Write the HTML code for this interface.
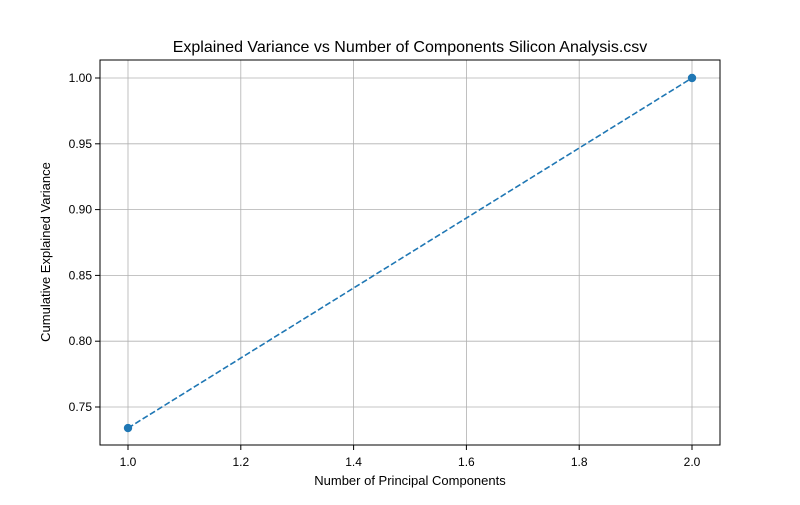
<!DOCTYPE html>
<html><head><meta charset="utf-8"><style>
body{margin:0;background:#fff;}
svg text{font-family:"Liberation Sans","DejaVu Sans",sans-serif;fill:#000;}
</style></head><body>
<svg id="chart" width="800" height="500" xmlns="http://www.w3.org/2000/svg">
<rect width="800" height="500" fill="#fff"/>
<g id="grid"></g>
<g id="ticks"></g>
<g id="series"></g>
<rect x="100" y="60" width="620" height="385" fill="none" stroke="#000" stroke-width="1"/>
<text x="410" y="52" font-size="16" text-anchor="middle">Explained Variance vs Number of Components Silicon Analysis.csv</text>
<text x="410" y="485" font-size="13" text-anchor="middle">Number of Principal Components</text>
<text x="50" y="252" font-size="13" text-anchor="middle" transform="rotate(-90 50 252)">Cumulative Explained Variance</text>
</svg>
<script>
const components = [1, 2];
const cumVariance = [0.734, 1.0];
const xTicks = [1.0, 1.2, 1.4, 1.6, 1.8, 2.0];
const yTicks = [0.75, 0.80, 0.85, 0.90, 0.95, 1.00];
const NS = "http://www.w3.org/2000/svg";
const x = v => 128 + (v - 1) * 564;
const y = v => 78 + (1 - v) * 1316;
function mk(tag, attrs, parent){const e=document.createElementNS(NS,tag);for(const k in attrs)e.setAttribute(k,attrs[k]);document.getElementById(parent).appendChild(e);return e;}
xTicks.forEach(t=>{
  const g=mk('line',{x1:x(t),x2:x(t),y1:60,y2:445,stroke:'#b0b0b0','stroke-width':0.8},'grid');
  
  
  const tk=mk('line',{x1:x(t),x2:x(t),y1:445,y2:450,stroke:'#000'},'ticks');
  
  
  const tx=mk('text',{x:x(t),y:466,'font-size':12,'text-anchor':'middle'},'ticks');
  tx.textContent=t.toFixed(1);
  
  
});
yTicks.forEach(t=>{
  const g=mk('line',{x1:100,x2:720,y1:y(t),y2:y(t),stroke:'#b0b0b0','stroke-width':0.8},'grid');
  
  
  const tk=mk('line',{x1:95,x2:100,y1:y(t),y2:y(t),stroke:'#000'},'ticks');
  
  
  const tx=mk('text',{x:92,y:y(t)+4,'font-size':12,'text-anchor':'end'},'ticks');
  tx.textContent=t.toFixed(2);
  
  
});
const pts=components.map((c,i)=>x(c)+','+y(cumVariance[i])).join(' ');
const pl=mk('polyline',{points:pts,fill:'none',stroke:'#1f77b4','stroke-width':1.6,'stroke-dasharray':'6,2.6'},'series');


components.forEach((c,i)=>{
  const p=mk('circle',{cx:x(c),cy:y(cumVariance[i]),r:4.2,fill:'#1f77b4'},'series');
  
  
});
</script>
</body></html>
